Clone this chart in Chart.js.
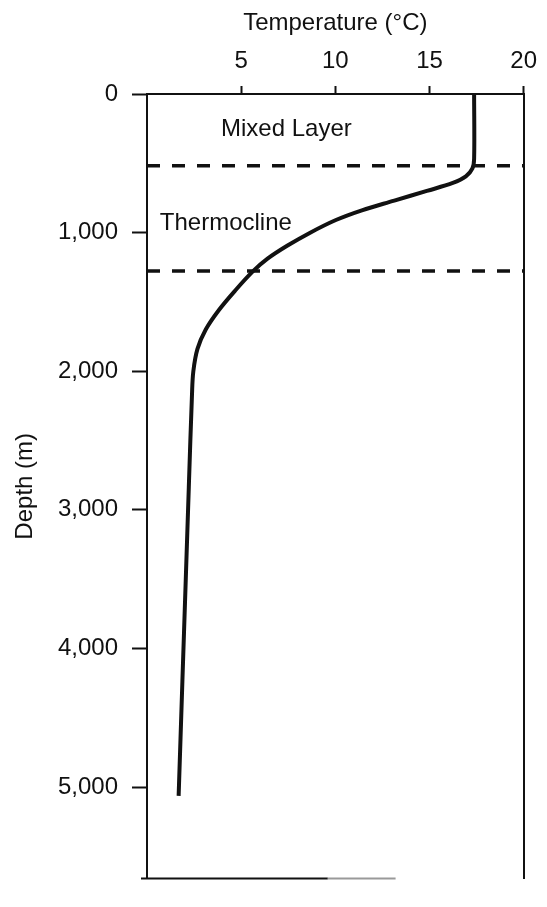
<!DOCTYPE html>
<html>
<head>
<meta charset="utf-8">
<script src="https://cdn.jsdelivr.net/npm/chart.js@4.4.1/dist/chart.umd.min.js"></script>
<style>
  html, body { margin: 0; padding: 0; background: #fff; }
  #wrap { width: 547px; height: 907px; position: relative; }
</style>
</head>
<body>
<div id="wrap"><canvas id="c"></canvas></div>
<script>
// ---- Data ----
const temperatureC = [17.37, 17.37, 17.28, 16.93, 16.24, 14.86, 13.13, 11.41, 10.03, 8.64, 7.44, 6.40, 5.62, 4.67, 3.81, 3.12, 2.68, 2.46, 2.39, 2.22, 2.05, 1.88, 1.68];
const depthM       = [0, 467, 537, 595, 642, 699, 769, 839, 909, 1002, 1095, 1188, 1280, 1420, 1560, 1699, 1839, 2001, 2164, 2838, 3536, 4233, 5063];
const layerBoundaries = [518, 1276];   // depths of the dashed lines (m)
const tempRange = [0, 20];
const depthRange = [0, 5660];
const xTicks = [5, 10, 15, 20];
const yTicks = [0, 1000, 2000, 3000, 4000, 5000];
const layerLabels = ["Mixed Layer", "Thermocline"];
const labelAnchors = [[7.4, 255], [0.68, 930]]; // [temp, depth] anchors for the text labels

const FONT = "'Liberation Sans', Arial, Helvetica, sans-serif";

const profile = temperatureC.map((t, i) => ({ x: t, y: depthM[i] }));
const dashedSets = layerBoundaries.map(d => ({
  data: [{ x: tempRange[0], y: d }, { x: tempRange[1], y: d }],
  borderColor: '#111',
  borderWidth: 3.5,
  borderDash: [13, 12],
  pointRadius: 0,
  tension: 0,
  fill: false
}));

const annotate = {
  id: 'annotate',
  afterDatasetsDraw(chart) {
    const { ctx, scales: { x, y } } = chart;
    ctx.save();
    ctx.fillStyle = '#111';
    ctx.font = '24px ' + FONT;
    ctx.textBaseline = 'middle';
    ctx.textAlign = 'center';
    ctx.fillText(layerLabels[0], x.getPixelForValue(labelAnchors[0][0]), y.getPixelForValue(labelAnchors[0][1]));
    ctx.textAlign = 'left';
    ctx.fillText(layerLabels[1], x.getPixelForValue(labelAnchors[1][0]), y.getPixelForValue(labelAnchors[1][1]));
    // bottom frame line (partially faded in the scan)
    const yb = chart.chartArea.bottom;
    ctx.lineWidth = 2;
    ctx.strokeStyle = '#111';
    ctx.beginPath();
    ctx.moveTo(chart.chartArea.left - 6, yb);
    ctx.lineTo(x.getPixelForValue(9.6), yb);
    ctx.stroke();
    ctx.strokeStyle = '#999';
    ctx.beginPath();
    ctx.moveTo(x.getPixelForValue(9.6), yb);
    ctx.lineTo(x.getPixelForValue(13.2), yb);
    ctx.stroke();
    ctx.restore();
  }
};

new Chart(document.getElementById('c'), {
  type: 'line',
  data: {
    datasets: [
      {
        data: profile,
        borderColor: '#111',
        borderWidth: 4,
        pointRadius: 0,
        tension: 0.35,
        fill: false
      },
      ...dashedSets
    ]
  },
  options: {
    responsive: true,
    maintainAspectRatio: false,
    animation: false,
    events: [],
    layout: { padding: { bottom: 2, left: 0, right: 0, top: 0 } },
    plugins: { legend: { display: false }, tooltip: { enabled: false } },
    scales: {
      x: {
        type: 'linear',
        position: 'top',
        min: tempRange[0],
        max: tempRange[1],
        afterBuildTicks: s => { s.ticks = xTicks.map(v => ({ value: v })); },
        afterFit: s => { s.height = 94; },
        ticks: { color: '#111', font: { family: FONT, size: 24 }, padding: 10, maxRotation: 0 },
        grid: { drawOnChartArea: false, tickLength: 8, tickWidth: 2, tickColor: '#111' },
        border: { display: true, width: 2, color: '#111' },
        title: { display: true, text: 'Temperature (°C)', color: '#111', font: { family: FONT, size: 24 }, padding: { top: 9, bottom: 0 } }
      },
      y: {
        type: 'linear',
        position: 'left',
        reverse: true,
        min: depthRange[0],
        max: depthRange[1],
        afterBuildTicks: s => { s.ticks = yTicks.map(v => ({ value: v })); },
        afterFit: s => { s.width = 147; },
        ticks: {
          color: '#111',
          font: { family: FONT, size: 24 },
          padding: 14,
          callback: v => v.toLocaleString('en-US')
        },
        grid: { drawOnChartArea: false, tickLength: 15, tickWidth: 2, tickColor: '#111' },
        border: { display: true, width: 2, color: '#111' },
        title: { display: true, text: 'Depth (m)', color: '#111', font: { family: FONT, size: 24 }, padding: { top: 11, bottom: 0 } }
      },
      yr: {
        type: 'linear',
        position: 'right',
        reverse: true,
        min: depthRange[0],
        max: depthRange[1],
        afterFit: s => { s.width = 16; },
        ticks: { display: false },
        grid: { display: false, drawTicks: false },
        border: { display: true, width: 2, color: '#111' }
      }
    }
  },
  plugins: [annotate]
});
</script>
</body>
</html>
